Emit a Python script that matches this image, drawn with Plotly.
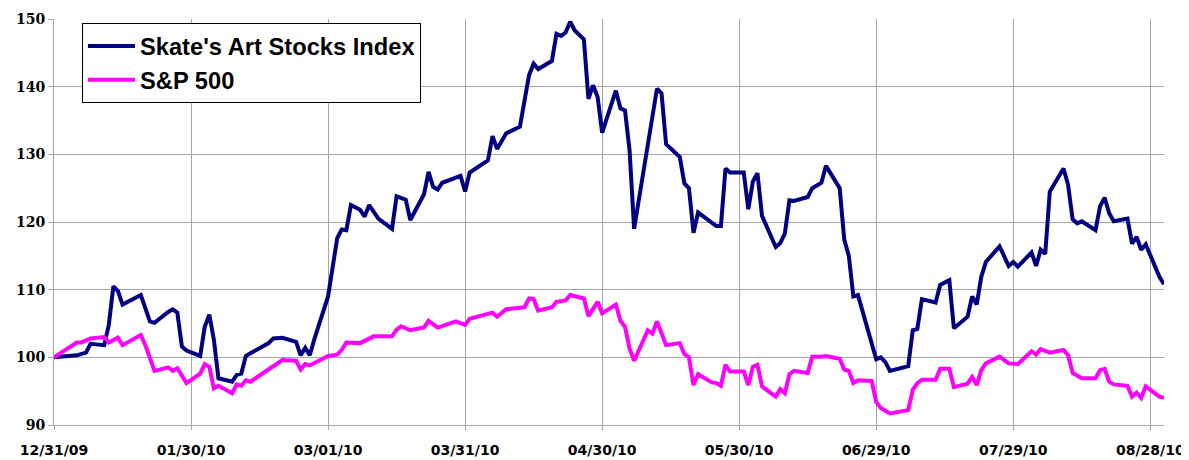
import pandas as pd
import plotly.graph_objects as go

# Days since 12/31/2009 and index values
base_date = "2009-12-31"

art_days = [0, 3, 5, 7, 8, 11, 12, 13, 14, 15, 19, 21, 22, 25, 26, 27, 28, 29, 32, 33,
            34, 35, 36, 39, 40, 41, 42, 43, 47, 48, 50, 53, 54, 55, 56, 57, 60, 62, 63, 64,
            65, 67, 68, 69, 71, 74, 75, 77, 78, 81, 82, 83, 84, 85, 89, 90, 91, 95, 96, 97,
            99, 102, 103, 104, 105, 106, 109, 110, 111, 112, 113, 114, 116, 117, 118, 119, 120, 123, 124, 125,
            126, 127, 132, 133, 134, 137, 138, 139, 140, 141, 145, 146, 147, 148, 151, 152, 153, 154, 155, 158,
            159, 160, 161, 162, 165, 166, 168, 169, 172, 173, 174, 175, 176, 180, 181, 182, 183, 187, 188, 189,
            190, 193, 194, 196, 197, 200, 201, 202, 203, 204, 207, 209, 210, 211, 214, 215, 216, 217, 218, 221,
            222, 223, 224, 225, 228, 229, 230, 231, 232, 235, 236, 237, 238, 239, 242, 243]
art_vals = [100.0, 100.2, 100.3, 100.7, 102.0, 101.8, 104.8, 110.5, 109.8, 107.8, 109.2, 105.3, 105.1, 106.7, 107.1, 106.6, 101.6, 101.0, 100.2, 104.5,
            106.3, 102.6, 96.9, 96.4, 97.4, 97.6, 100.2, 100.6, 102.1, 102.8, 102.9, 102.3, 100.3, 101.4, 100.3, 102.7, 109.0, 117.6, 118.9, 118.8,
            122.5, 121.8, 120.8, 122.5, 120.5, 119.0, 123.8, 123.3, 120.3, 124.1, 127.4, 125.2, 124.8, 125.8, 126.8, 124.5, 127.3, 129.1, 132.7, 130.8,
            133.1, 134.1, 138.2, 141.7, 143.4, 142.6, 143.8, 147.8, 147.5, 148.0, 149.6, 148.3, 147.0, 138.2, 140.2, 138.5, 133.2, 139.4, 136.8, 136.5,
            130.6, 119.0, 139.7, 139.0, 131.5, 129.6, 125.7, 125.0, 118.4, 121.4, 119.4, 119.4, 127.9, 127.3, 127.3, 121.9, 126.0, 127.2, 120.9, 116.3,
            116.9, 118.3, 123.2, 123.1, 123.7, 125.0, 125.8, 128.3, 125.0, 117.4, 115.0, 109.0, 109.2, 99.7, 100.0, 99.3, 98.0, 98.7, 104.0, 104.2,
            108.6, 108.1, 110.7, 111.4, 104.3, 106.0, 109.0, 107.8, 111.9, 114.1, 116.4, 113.5, 114.1, 113.4, 115.5, 113.5, 115.9, 115.3, 124.5, 127.9,
            125.5, 120.4, 119.8, 120.1, 118.8, 122.3, 123.6, 121.3, 120.1, 120.5, 116.8, 117.8, 115.9, 116.7, 111.9, 110.8]

sp_days = [0, 5, 6, 8, 11, 12, 14, 15, 19, 20, 22, 25, 26, 27, 29, 32, 33, 34, 35, 36,
           39, 40, 41, 42, 43, 48, 50, 53, 54, 55, 56, 60, 62, 63, 64, 67, 70, 74, 75, 76,
           78, 81, 82, 84, 88, 90, 91, 96, 97, 99, 103, 104, 105, 106, 109, 110, 112, 113, 116, 117,
           119, 120, 123, 124, 125, 126, 127, 130, 131, 132, 134, 137, 138, 139, 140, 141, 144, 145, 146, 147,
           148, 151, 152, 153, 154, 155, 158, 159, 160, 161, 162, 165, 166, 168, 169, 172, 173, 174, 175, 176,
           179, 180, 181, 182, 183, 187, 188, 189, 190, 193, 194, 196, 197, 200, 201, 202, 203, 204, 207, 209,
           211, 214, 215, 216, 218, 221, 222, 223, 225, 228, 229, 230, 231, 232, 235, 236, 237, 238, 239, 242,
           243]
sp_vals = [100.0, 102.2, 102.2, 102.8, 103.0, 102.2, 102.9, 101.8, 103.3, 101.8, 98.0, 98.5, 98.0, 98.4, 96.2, 97.6, 99.0, 98.6, 95.4, 95.8,
           94.7, 96.0, 95.8, 96.6, 96.4, 98.6, 99.6, 99.5, 98.2, 99.0, 98.8, 100.2, 100.4, 101.1, 102.2, 102.1, 103.1, 103.1, 104.1, 104.6,
           104.0, 104.4, 105.4, 104.4, 105.3, 104.8, 105.7, 106.6, 106.0, 107.1, 107.4, 108.7, 108.6, 106.9, 107.4, 108.2, 108.4, 109.2, 108.7, 106.1,
           108.2, 106.5, 107.8, 105.4, 104.5, 101.3, 99.5, 104.0, 103.5, 105.3, 101.8, 102.1, 100.5, 100.0, 95.9, 97.5, 96.3, 96.2, 95.8, 98.9,
           97.9, 97.9, 95.9, 98.6, 98.9, 95.7, 94.2, 95.3, 94.7, 97.5, 98.0, 97.7, 100.1, 100.1, 100.2, 99.8, 98.2, 98.0, 96.2, 96.6,
           96.5, 93.4, 92.5, 92.1, 91.7, 92.2, 95.2, 96.2, 96.7, 96.7, 98.3, 98.3, 95.6, 96.1, 97.1, 95.9, 98.1, 99.1, 100.1, 99.1,
           99.0, 100.9, 100.4, 101.2, 100.7, 101.1, 100.3, 97.7, 96.9, 96.9, 98.1, 98.3, 96.4, 96.0, 95.8, 94.2, 94.8, 94.0, 95.7, 94.2,
           94.0]

tick_days = [0, 30, 60, 90, 120, 150, 180, 210, 240]
y_ticks = [90, 100, 110, 120, 130, 140, 150]

start = pd.Timestamp(base_date)
art_dates = start + pd.to_timedelta(art_days, unit="D")
sp_dates = start + pd.to_timedelta(sp_days, unit="D")
tick_dates = start + pd.to_timedelta(tick_days, unit="D")
tick_text = [d.strftime("%m/%d/%y") for d in tick_dates]

fig = go.Figure()
fig.add_trace(go.Scatter(x=art_dates, y=art_vals, mode="lines", name="Skate's Art Stocks Index",
                         line=dict(color="#000080", width=4)))
fig.add_trace(go.Scatter(x=sp_dates, y=sp_vals, mode="lines", name="S&P 500",
                         line=dict(color="#FF00FF", width=4)))

grid = "#A6A6A6"

# the page body adds an 8px margin, so the figure is 1181x452
fig.update_layout(
    width=1181, height=452,
    margin=dict(l=46, r=25, t=11, b=35),
    paper_bgcolor="white", plot_bgcolor="white",
    showlegend=True,
    legend=dict(
        x=0.0252, y=0.99, xanchor="left", yanchor="top",
        bgcolor="white", bordercolor="#000000", borderwidth=1,
        font=dict(family="Liberation Sans, Arial", size=23.7, color="#000000", weight="bold"),
        itemwidth=47,
        entrywidth=302,
        tracegroupgap=0,
    ),
    xaxis=dict(
        range=[start, start + pd.Timedelta(days=243)],
        tickmode="array", tickvals=tick_dates, ticktext=tick_text,
        showgrid=True, gridcolor=grid, gridwidth=1,
        showline=True, linecolor=grid, linewidth=1,
        ticks="outside", ticklen=4, tickcolor=grid,
        ticklabelstandoff=8,
        tickfont=dict(family="DejaVu Sans", size=14, color="#000000", weight="bold"),
        zeroline=False, automargin=False,
    ),
    yaxis=dict(
        range=[90, 150], tickvals=y_ticks,
        showgrid=True, gridcolor=grid, gridwidth=1,
        showline=True, linecolor=grid, linewidth=1,
        ticks="outside", ticklen=5, tickcolor=grid,
        tickfont=dict(family="DejaVu Serif", size=14, color="#000000", weight="bold"),
        zeroline=False, automargin=False,
    ),
)

fig.write_html("out.html")
